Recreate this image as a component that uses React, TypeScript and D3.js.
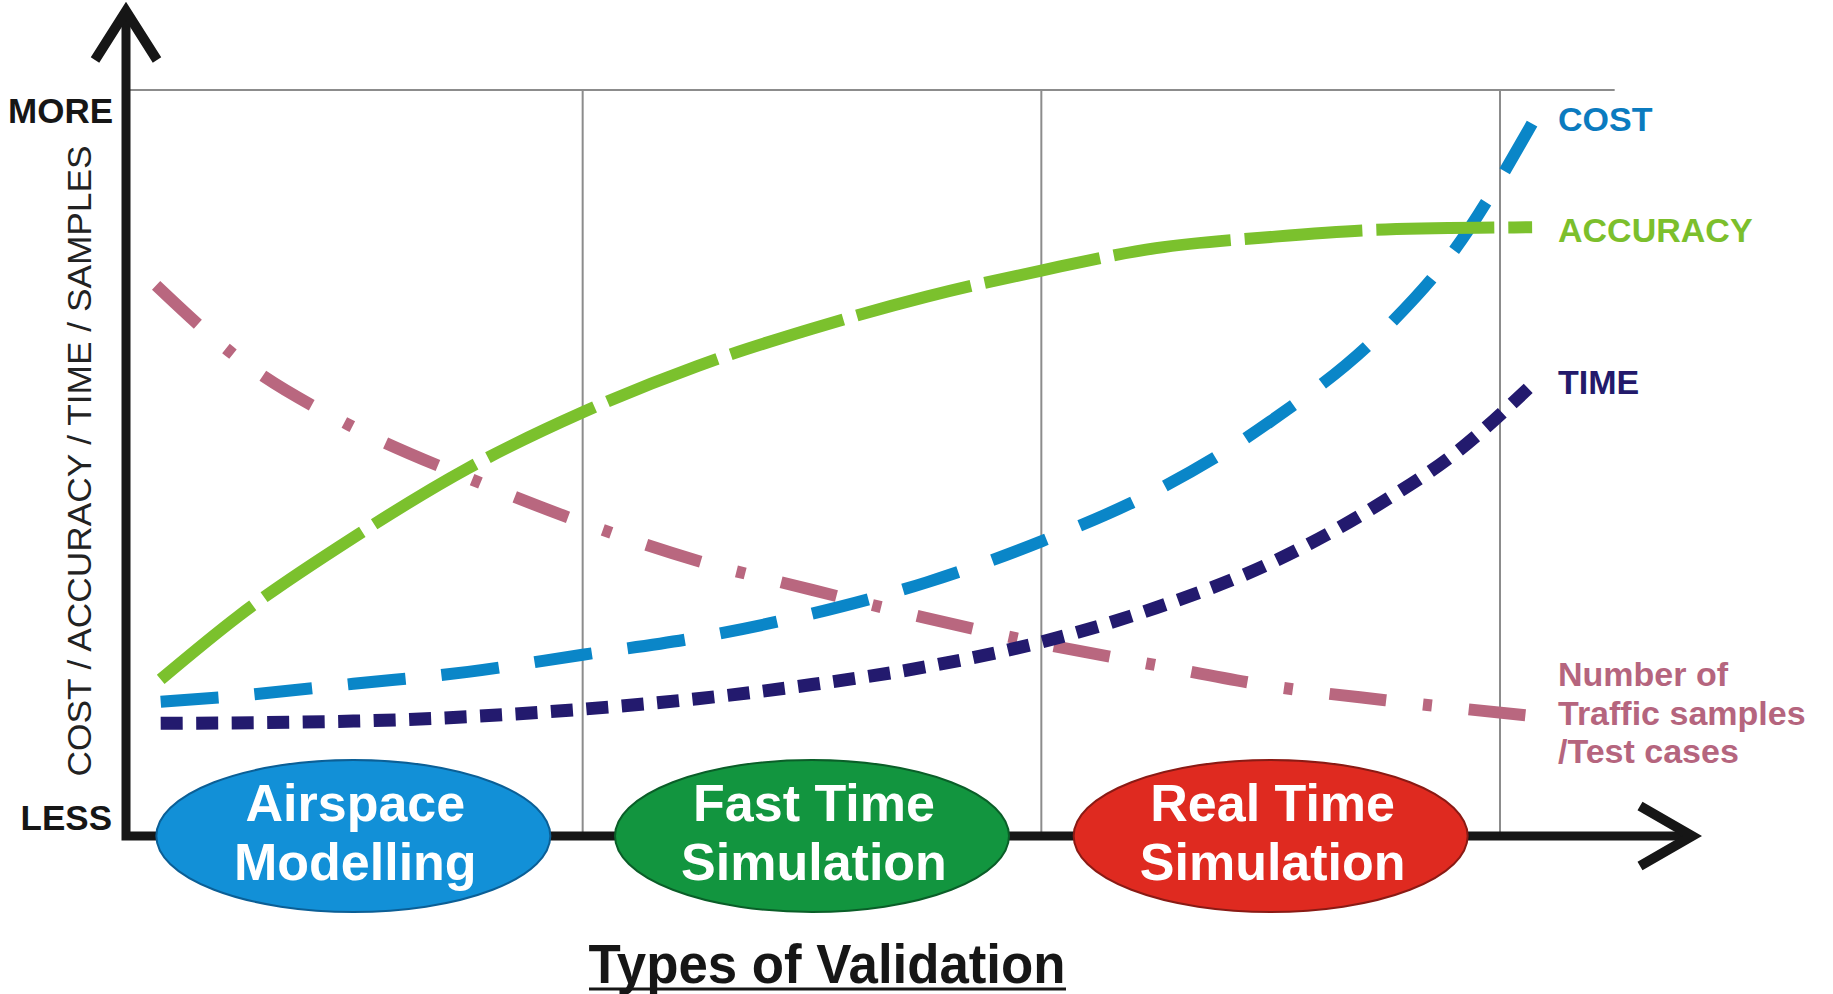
import React from "react";
import * as d3 from "d3";

// ---------- data ----------
const accuracyX = [0.08, 0.25, 0.5, 0.75, 1, 1.25, 1.5, 1.75, 2, 2.25, 2.5, 2.75, 3.07];
const accuracy = [21, 29.5, 40, 49.3, 56.8, 63, 68, 72.3, 75.8, 78.8, 80.3, 81.3, 81.6];

const costX = [0.08, 0.25, 0.5, 0.75, 1, 1.25, 1.5, 1.75, 2, 2.25, 2.5, 2.75, 2.9, 3.07];
const cost = [18, 18.8, 20.4, 22, 24.3, 26.6, 29.8, 34, 39.5, 46.3, 55.6, 68, 78.5, 95.5];

const timeX = [0.08, 0.5, 1, 1.25, 1.5, 1.75, 2, 2.25, 2.5, 2.75, 2.9, 3.07];
const time = [15.1, 15.4, 17, 18.4, 20.3, 22.7, 26, 30.6, 36.6, 45, 51.2, 60.5];

const samplesX = [0.07, 0.25, 0.5, 0.75, 1, 1.25, 1.5, 1.75, 2, 2.25, 2.5, 2.75, 3.07];
const samples = [73.8, 64, 54.8, 48, 42, 36.9, 33, 29.2, 25.8, 22.9, 20.1, 18.2, 16.1];

const stageNames = [["Airspace", "Modelling"], ["Fast Time", "Simulation"], ["Real Time", "Simulation"]];
const stagePos = [0.5, 1.5, 2.5];
const gridX = [1, 2, 3];

const yAxisLabel = "COST / ACCURACY / TIME / SAMPLES";
const xAxisLabel = "Types of Validation";

// ---------- layout / style ----------
const W = 1833;
const H = 994;
const FONT = "'Liberation Sans', Arial, Helvetica, sans-serif";
const NARROW = "'Liberation Sans Narrow', 'Liberation Sans', Arial, sans-serif";

const xScale = d3.scaleLinear().domain([0, 3]).range([124, 1500]);
const yScale = d3.scaleLinear().domain([0, 100]).range([836, 90]);

const series = [
  { name: "samples", xs: samplesX, ys: samples, color: "#b9677f", width: 12, dash: "57 37 9 37" },
  { name: "time", xs: timeX, ys: time, color: "#231a6e", width: 13, dash: "22 13.5" },
  { name: "cost", xs: costX, ys: cost, color: "#0a86c8", width: 12, dash: "58 36" },
  { name: "accuracy", xs: accuracyX, ys: accuracy, color: "#7bc12d", width: 12, dash: "118 14" },
];

const stageStyles = [
  { fill: "#1290d7", stroke: "#0b5f96" },
  { fill: "#12953f", stroke: "#0a5e28" },
  { fill: "#df2a20", stroke: "#8a1a14" },
];

const seriesLabels = [
  { lines: ["COST"], color: "#0b7bbf", baselines: [131] },
  { lines: ["ACCURACY"], color: "#7cbf2c", baselines: [242] },
  { lines: ["TIME"], color: "#231a6b", baselines: [394] },
  { lines: ["Number of", "Traffic samples", "/Test cases"], color: "#b5657e", baselines: [686, 725, 763] },
];

export default function App() {
  const line = d3
    .line<[number, number]>()
    .x((d) => xScale(d[0]))
    .y((d) => yScale(d[1]))
    .curve(d3.curveMonotoneX);

  const x0 = xScale(0) + 2;
  const yBase = yScale(0);
  const yTop = yScale(100);

  return (
    <svg
      width={W}
      height={H}
      viewBox={`0 0 ${W} ${H}`}
      style={{ position: "absolute", left: 0, top: 0, display: "block", background: "#fff" }}
    >
      <rect x={0} y={0} width={W} height={H} fill="#ffffff" />

      {/* grid */}
      <line x1={x0 + 4} x2={xScale(3.25)} y1={yTop} y2={yTop} stroke="#8c8c8c" strokeWidth={2} />
      {gridX.map((g) => (
        <line key={g} x1={xScale(g)} x2={xScale(g)} y1={yTop} y2={yBase} stroke="#8c8c8c" strokeWidth={2} />
      ))}

      {/* axes */}
      <path
        d={`M${x0},12 L${x0},${yBase} L1690,${yBase}`}
        fill="none"
        stroke="#161616"
        strokeWidth={9}
        strokeLinejoin="miter"
      />
      <path d={`M${x0 - 31},60 L${x0},11 L${x0 + 31},60`} fill="none" stroke="#161616" strokeWidth={10} strokeLinejoin="miter" />
      <path d={`M1640,806 L1692,${yBase} L1640,866`} fill="none" stroke="#161616" strokeWidth={10} strokeLinejoin="miter" />

      {/* curves */}
      {series.map((s) => (
        <path
          key={s.name}
          d={line(s.xs.map((x, i) => [x, s.ys[i]]) as [number, number][]) || ""}
          fill="none"
          stroke={s.color}
          strokeWidth={s.width}
          strokeDasharray={s.dash}
          strokeLinecap="butt"
        />
      ))}

      {/* stage ellipses */}
      {stageNames.map((lines, i) => {
        const cx = xScale(stagePos[i]);
        return (
          <g key={i}>
            <ellipse cx={cx} cy={yBase} rx={197} ry={76} fill={stageStyles[i].fill} stroke={stageStyles[i].stroke} strokeWidth={2} />
            {lines.map((t, j) => (
              <text
                key={j}
                x={cx + 2}
                y={yBase - 15 + j * 59}
                textAnchor="middle"
                fill="#ffffff"
                fontFamily={FONT}
                fontWeight="bold"
                fontSize={52}
              >
                {t}
              </text>
            ))}
          </g>
        );
      })}

      {/* axis labels */}
      <text x={113} y={123} textAnchor="end" fontFamily={FONT} fontWeight="bold" fontSize={35} fill="#161616">
        MORE
      </text>
      <text x={112} y={830} textAnchor="end" fontFamily={FONT} fontWeight="bold" fontSize={35} fill="#161616">
        LESS
      </text>
      <text
        transform="translate(91,461) rotate(-90)"
        textAnchor="middle"
        fontFamily={FONT}
        fontSize={33}
        fill="#222222"
        textLength={631}
        lengthAdjust="spacingAndGlyphs"
      >
        {yAxisLabel}
      </text>

      <text
        x={827}
        y={983}
        textAnchor="middle"
        fontFamily={NARROW}
        fontWeight="bold"
        fontSize={55}
        fill="#161616"
        textLength={477}
        lengthAdjust="spacingAndGlyphs"
      >
        {xAxisLabel}
      </text>
      <line x1={589} x2={1066} y1={989} y2={989} stroke="#161616" strokeWidth={3} />

      {/* series labels */}
      {seriesLabels.map((l, i) => (
        <g key={i}>
          {l.lines.map((t, j) => (
            <text key={j} x={1558} y={l.baselines[j]} fontFamily={FONT} fontWeight="bold" fontSize={34} fill={l.color}>
              {t}
            </text>
          ))}
        </g>
      ))}
    </svg>
  );
}
